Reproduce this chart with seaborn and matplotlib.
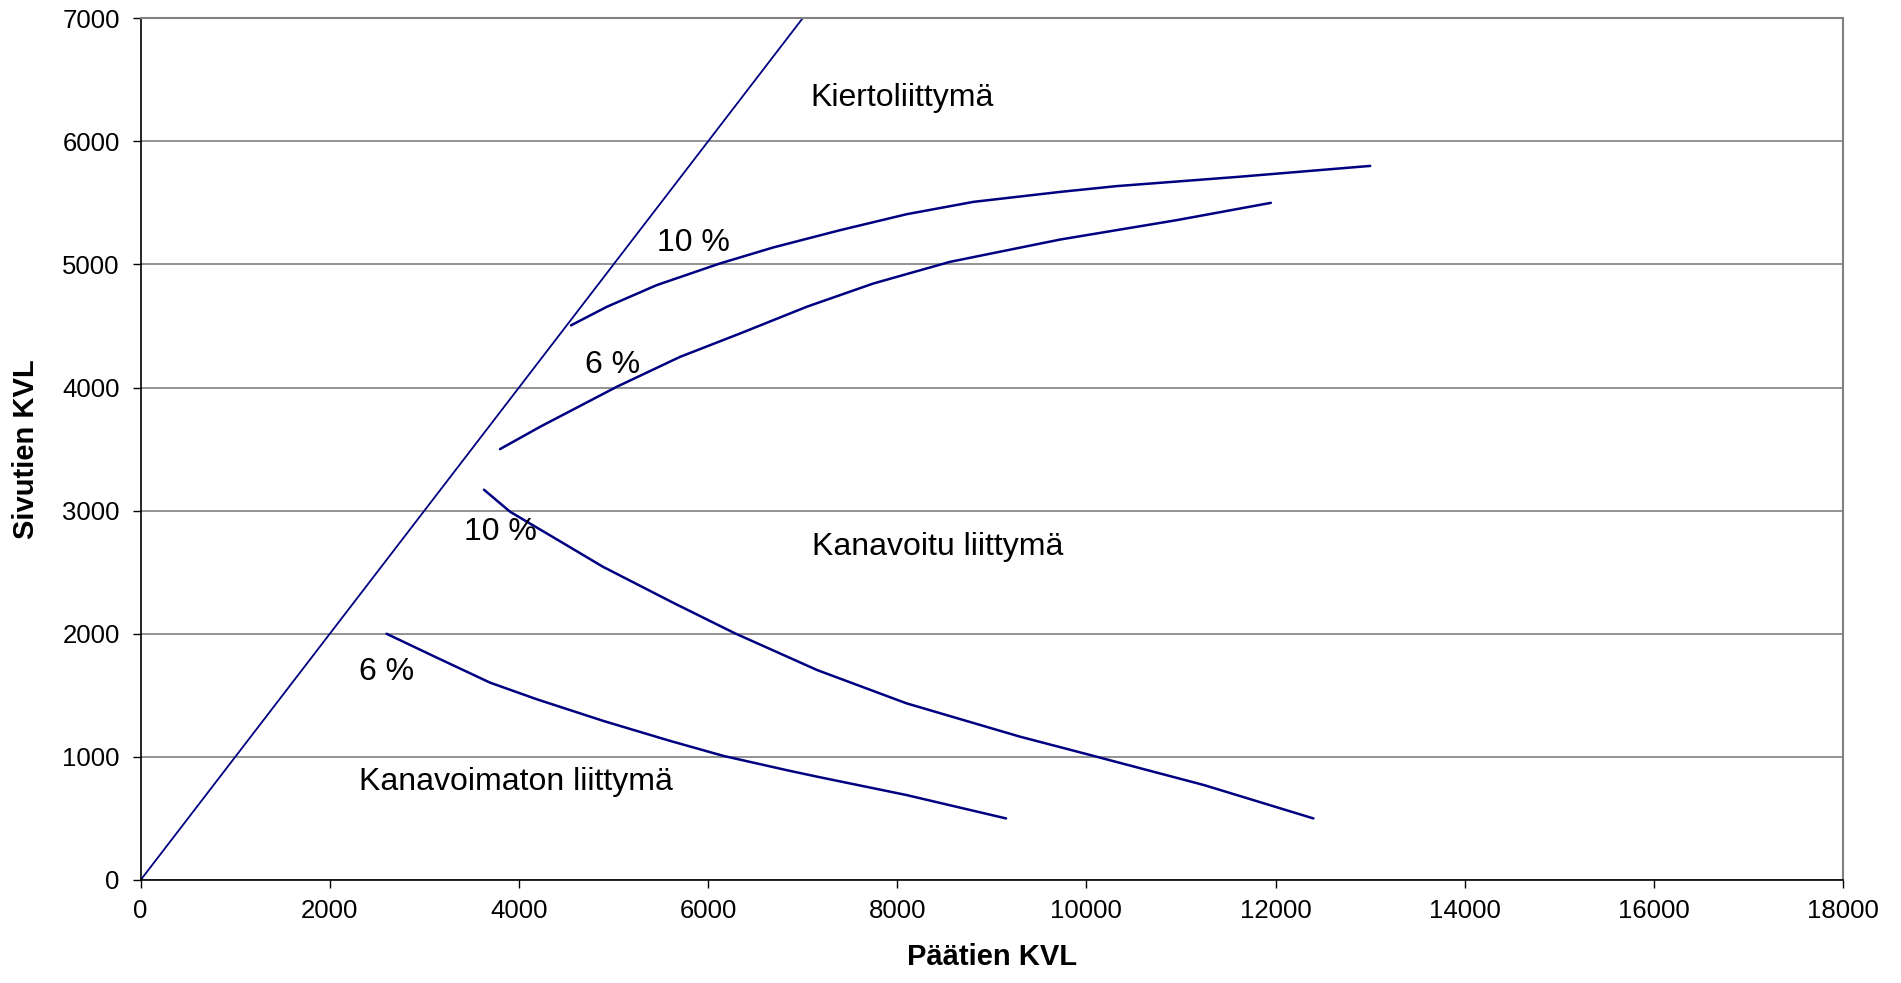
import matplotlib
matplotlib.use("Agg")
import matplotlib.pyplot as plt
import seaborn as sns

# ---- data ----
diag_x = [0, 7000]
diag_y = [0, 7000]

kierto10_x = [4550, 4930, 5457, 6126, 6690, 7395, 8100, 8805, 9722, 10320, 11600, 13000]
kierto10_y = [4505, 4656, 4832, 5008, 5138, 5278, 5408, 5508, 5589, 5636, 5711, 5800]

kierto6_x = [3800, 4223, 5034, 5703, 6338, 7043, 7747, 8558, 9722, 10958, 11950]
kierto6_y = [3500, 3681, 4006, 4249, 4439, 4656, 4845, 5021, 5202, 5360, 5500]

kanav10_x = [3630, 3906, 4472, 4888, 5643, 6285, 7153, 8097, 9298, 10040, 11243, 12400]
kanav10_y = [3170, 2991, 2734, 2544, 2247, 2003, 1705, 1435, 1164, 1015, 771, 500]

kanav6_x = [2600, 3131, 3694, 4188, 4892, 5597, 6161, 6831, 7153, 8097, 9150]
kanav6_y = [2000, 1806, 1603, 1468, 1292, 1130, 1008, 892, 839, 690, 500]

x_ticks = [0, 2000, 4000, 6000, 8000, 10000, 12000, 14000, 16000, 18000]
y_ticks = [0, 1000, 2000, 3000, 4000, 5000, 6000, 7000]

labels_text = ["Kiertoliittymä", "10 %", "6 %", "10 %", "Kanavoitu liittymä", "6 %", "Kanavoimaton liittymä"]
labels_x = [7080, 5460, 4695, 3420, 7100, 2310, 2310]
labels_y = [6350, 5170, 4185, 2828, 2706, 1692, 798]

x_title = "Päätien KVL"
y_title = "Sivutien KVL"

# ---- style ----
sns.set_style("white")
plt.rcParams['font.family'] = ['Liberation Sans', 'DejaVu Sans']

NAVY = "#000080"
GRID = "#808080"

fig = plt.figure(figsize=(19.01, 9.83), dpi=100)
ax = fig.add_axes([0.074, 0.1048, 0.8955, 0.8767])

sns.lineplot(x=diag_x, y=diag_y, sort=False, estimator=None, color=NAVY, linewidth=1.3, ax=ax)
for xs, ys in [(kierto10_x, kierto10_y), (kierto6_x, kierto6_y),
               (kanav10_x, kanav10_y), (kanav6_x, kanav6_y)]:
    sns.lineplot(x=xs, y=ys, sort=False, estimator=None, color=NAVY, linewidth=1.8, ax=ax)

ax.set_xlim(0, 18000)
ax.set_ylim(0, 7000)
ax.set_xticks(x_ticks)
ax.set_yticks(y_ticks)
ax.set_xticklabels([str(t) for t in x_ticks])
ax.set_yticklabels([str(t) for t in y_ticks])

ax.grid(False)
ax.yaxis.grid(True, color=GRID, linewidth=1.2)
ax.set_axisbelow(True)

for side in ["left", "bottom"]:
    ax.spines[side].set_color("black")
    ax.spines[side].set_linewidth(1.2)
for side in ["right", "top"]:
    ax.spines[side].set_color(GRID)
    ax.spines[side].set_linewidth(1.5)

ax.tick_params(axis="both", which="major", direction="out", length=6, width=1.0,
               color="black", labelsize=18.5, labelcolor="black")
ax.tick_params(axis="y", pad=9, left=True)
ax.tick_params(axis="x", pad=8, bottom=True)

for t, x, y in zip(labels_text, labels_x, labels_y):
    ax.text(x, y, t, fontsize=23, ha="left", va="center", color="black")

ax.set_xlabel(x_title, fontsize=21, fontweight="bold", labelpad=14, color="black")
ax.set_ylabel(y_title, fontsize=21, fontweight="bold", labelpad=16, color="black")

fig.savefig("out.png", dpi=100)
